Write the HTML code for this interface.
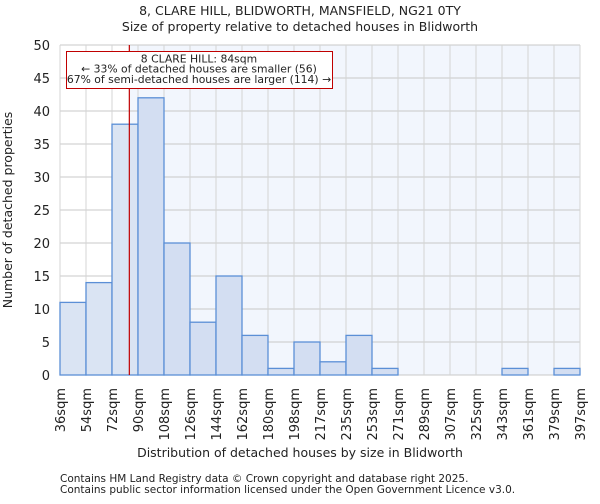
<!DOCTYPE html>
<html><head><meta charset="utf-8"><style>
body{margin:0;background:#fff;font-family:"DejaVu Sans","Liberation Sans",sans-serif;}
svg text{font-family:"DejaVu Sans","Liberation Sans",sans-serif;fill:#222;}
</style></head><body>
<svg id="chart" width="600" height="500" xmlns="http://www.w3.org/2000/svg">
<text x="300" y="15" text-anchor="middle" font-size="12.5">8, CLARE HILL, BLIDWORTH, MANSFIELD, NG21 0TY</text>
<text x="300" y="31" text-anchor="middle" font-size="12.5">Size of property relative to detached houses in Blidworth</text>
<g id="plot"></g>
<text x="300" y="457" text-anchor="middle" font-size="12.5">Distribution of detached houses by size in Blidworth</text>
<text transform="translate(12,210) rotate(-90)" text-anchor="middle" font-size="12.5">Number of detached properties</text>
<text x="60" y="482" font-size="10.5" fill="#444">Contains HM Land Registry data © Crown copyright and database right 2025.</text>
<text x="60" y="493" font-size="10.5" fill="#444">Contains public sector information licensed under the Open Government Licence v3.0.</text>
</svg>
<script>
const categories=["36sqm","54sqm","72sqm","90sqm","108sqm","126sqm","144sqm","162sqm","180sqm","198sqm","217sqm","235sqm","253sqm","271sqm","289sqm","307sqm","325sqm","343sqm","361sqm","379sqm","397sqm"];
const counts=[11,14,38,42,20,8,15,6,1,5,2,6,1,0,0,0,0,1,0,1];
const yTicks=[0,5,10,15,20,25,30,35,40,45,50];
const propertyBin=2+(84-72)/18;
const NS="http://www.w3.org/2000/svg";
const g=document.getElementById('plot');
const X0=60,X1=580,Y0=375,Y1=45,n=counts.length;
const xs=i=>X0+(X1-X0)*i/n;
const ys=v=>Y0-(Y0-Y1)*v/50;
function mk(t,a){const e=document.createElementNS(NS,t);for(const k in a)e.setAttribute(k,a[k]);g.appendChild(e);return e;}
const rx=xs(propertyBin);
let e=mk('rect',{x:rx,y:Y1,width:X1-rx,height:Y0-Y1,fill:'#f2f6fd'});


for(const t of yTicks){
 e=mk('line',{x1:X0,x2:X1,y1:ys(t),y2:ys(t),stroke:'#c8c8c8','stroke-width':1});
 
 
 e=mk('text',{x:X0-10,y:ys(t)+5,'text-anchor':'end','font-size':13});
 e.textContent=t;
 
 
}
for(let i=0;i<=n;i++){
 e=mk('line',{x1:xs(i),x2:xs(i),y1:Y1,y2:Y0,stroke:'#d4d4d4','stroke-width':1});
 
 
}
counts.forEach((c,i)=>{
 if(c<=0)return;
 e=mk('rect',{x:xs(i),y:ys(c),width:xs(i+1)-xs(i),height:Y0-ys(c),fill:i<propertyBin?'#dae4f3':'#d3def2',stroke:'#5b8fd6','stroke-width':1.3});
 
 
});
categories.forEach((c,i)=>{
 const x=xs(i);
 e=mk('text',{transform:`translate(${x+5},388) rotate(-90)`,'text-anchor':'end','font-size':13});
 e.textContent=c;
 
 
});
e=mk('line',{x1:rx,x2:rx,y1:Y1,y2:Y0,stroke:'#c00000','stroke-width':1.2});


e=mk('rect',{x:66.5,y:51.5,width:266,height:37,fill:'#fff',stroke:'#c00000','stroke-width':1});


const lines=["8 CLARE HILL: 84sqm","← 33% of detached houses are smaller (56)","67% of semi-detached houses are larger (114) →"];
lines.forEach((l,k)=>{
 e=mk('text',{x:199,y:62.5+k*10.2,'text-anchor':'middle','font-size':10.8});
 e.textContent=l;
 
 
});
</script>
</body></html>
